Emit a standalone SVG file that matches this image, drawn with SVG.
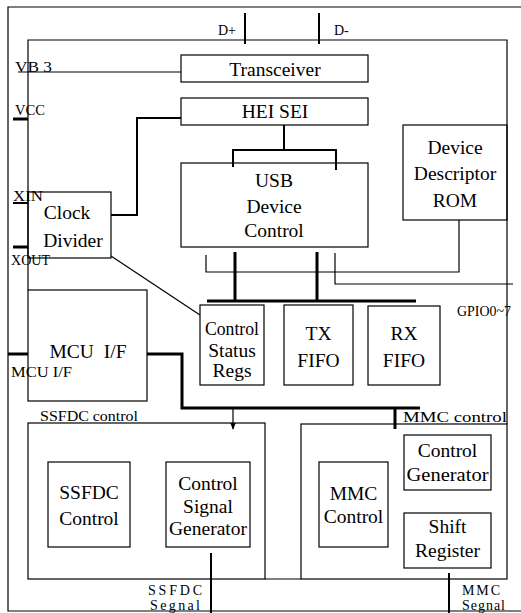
<svg xmlns="http://www.w3.org/2000/svg" width="521" height="613" viewBox="0 0 521 613">
<defs>
<style>
.box{fill:none;stroke:#000;stroke-width:1.2}
.ln{fill:none;stroke:#000;stroke-width:1.2}
.th{fill:none;stroke:#000;stroke-width:3}
.md{fill:none;stroke:#000;stroke-width:2}
.t{font-family:"Liberation Serif","Times New Roman",serif;font-size:19.5px;fill:#000;text-anchor:middle}
.s{font-family:"Liberation Serif","Times New Roman",serif;font-size:14px;fill:#000}
</style>
<marker id="ah" viewBox="0 0 10 10" refX="9" refY="5" markerWidth="6" markerHeight="6" orient="auto"><path d="M0,1 L10,5 L0,9 Z" fill="#000"/></marker>
</defs>
<rect width="521" height="613" fill="#fff"/>
<g id="frame">
<path class="ln" d="M521,7 H8 V611 H521"/>
<path class="ln" d="M28,290 V40 H507 V424"/>
</g>
<g id="connectors">
<line class="md" x1="245" y1="13" x2="245" y2="44"/>
<line class="md" x1="319" y1="13" x2="319" y2="44"/>
<line class="ln" x1="18" y1="72" x2="181" y2="72"/>
<line class="th" x1="13" y1="119" x2="28" y2="119"/>
<line class="md" x1="13" y1="203" x2="28" y2="203"/>
<line class="th" x1="13" y1="247" x2="28" y2="247"/>
<line class="th" x1="8" y1="354" x2="28" y2="354"/>
<path class="md" d="M181,118 H137 V215 H111"/>
<path class="md" d="M284,125 V150 M233,167 V150 H336 V170"/>
<path class="th" d="M235,252 V301 M317,252 V301 M207,301 H416"/>
<path class="ln" d="M206,255 V272 H459 V220"/>
<path class="ln" d="M335,253 V284 H513"/>
<line class="ln" x1="111" y1="256" x2="200" y2="315"/>
<path class="th" d="M147,354 H182 V408 H420"/>
<line class="ln" x1="233" y1="408" x2="233" y2="429" stroke-width="1.5" marker-end="url(#ah)"/>
<line class="th" x1="395" y1="408" x2="395" y2="429"/>
<line class="md" x1="211" y1="553" x2="211" y2="613"/>
<line class="md" x1="449" y1="573" x2="449" y2="613"/>
</g>
<g id="labels">
<text class="s" x="218" y="35">D+</text>
<text class="s" x="334" y="35">D-</text>
<text class="s" x="15" y="72" textLength="37" lengthAdjust="spacingAndGlyphs">VB 3</text>
<text class="s" x="15" y="115" textLength="30" lengthAdjust="spacingAndGlyphs">VCC</text>
<text class="s" x="13" y="201" textLength="30" lengthAdjust="spacingAndGlyphs">XIN</text>
<text class="s" x="11" y="265" textLength="39" lengthAdjust="spacingAndGlyphs">XOUT</text>
<text class="s" x="11" y="377" textLength="61" lengthAdjust="spacingAndGlyphs">MCU I/F</text>
<text class="s" x="457" y="316" textLength="54" lengthAdjust="spacingAndGlyphs">GPIO0~7</text>
<text class="s" x="40" y="421" textLength="98" lengthAdjust="spacingAndGlyphs">SSFDC control</text>
<text class="s" x="403" y="422" textLength="104" lengthAdjust="spacingAndGlyphs">MMC control</text>
<text class="s" x="148" y="595" font-size="13" textLength="54" lengthAdjust="spacing">SSFDC</text>
<text class="s" x="150" y="609.5" font-size="12" textLength="50" lengthAdjust="spacing">Segnal</text>
<text class="s" x="462" y="595" font-size="13" textLength="38" lengthAdjust="spacing">MMC</text>
<text class="s" x="462" y="609.5" font-size="12" textLength="43" lengthAdjust="spacing">Segnal</text>
</g>
<g id="transceiver">
<rect class="box" x="181" y="55" width="187" height="27"/>
<text class="t" x="275" y="76">Transceiver</text>
</g>
<g id="hei-sei">
<rect class="box" x="181" y="98" width="187" height="27"/>
<text class="t" x="275" y="118">HEI SEI</text>
</g>
<g id="usb-device-control">
<rect class="box" x="181" y="163" width="187" height="84"/>
<text class="t" x="274" y="187">USB</text>
<text class="t" x="274" y="213">Device</text>
<text class="t" x="274" y="237">Control</text>
</g>
<g id="device-descriptor-rom">
<rect class="box" x="403" y="125" width="104" height="95"/>
<text class="t" x="455" y="154">Device</text>
<text class="t" x="455" y="180">Descriptor</text>
<text class="t" x="455" y="207">ROM</text>
</g>
<g id="clock-divider">
<rect class="box" x="28" y="192" width="83" height="66"/>
<text class="t" x="67" y="219">Clock</text>
<text class="t" x="73" y="247">Divider</text>
</g>
<g id="mcu-if">
<rect class="box" x="28" y="290" width="119" height="111"/>
<text class="t" x="88" y="358" word-spacing="5">MCU I/F</text>
</g>
<g id="control-status-regs">
<rect class="box" x="200" y="305" width="64" height="80"/>
<text class="t" x="232" y="335" textLength="54" lengthAdjust="spacingAndGlyphs">Control</text>
<text class="t" x="232" y="357">Status</text>
<text class="t" x="232" y="377">Regs</text>
</g>
<g id="tx-fifo">
<rect class="box" x="284" y="305" width="69" height="80"/>
<text class="t" x="318.5" y="340">TX</text>
<text class="t" x="318.5" y="367">FIFO</text>
</g>
<g id="rx-fifo">
<rect class="box" x="368" y="306" width="72" height="79"/>
<text class="t" x="404" y="340">RX</text>
<text class="t" x="404" y="367">FIFO</text>
</g>
<g id="ssfdc-section">
<rect class="box" x="28" y="423" width="237" height="156"/>
</g>
<g id="mmc-section">
<rect class="box" x="301" y="424" width="206" height="155"/>
<line class="ln" x1="265" y1="579" x2="301" y2="579"/>
</g>
<g id="ssfdc-control">
<rect class="box" x="48" y="462" width="82" height="85"/>
<text class="t" x="89" y="499">SSFDC</text>
<text class="t" x="89" y="525">Control</text>
</g>
<g id="control-signal-generator">
<rect class="box" x="166" y="462" width="84" height="85"/>
<text class="t" x="208" y="490">Control</text>
<text class="t" x="208" y="513">Signal</text>
<text class="t" x="208" y="535" textLength="78" lengthAdjust="spacingAndGlyphs">Generator</text>
</g>
<g id="mmc-control">
<rect class="box" x="319" y="462" width="69" height="85"/>
<text class="t" x="353.5" y="500">MMC</text>
<text class="t" x="353.5" y="523">Control</text>
</g>
<g id="control-generator">
<rect class="box" x="404" y="435" width="87" height="55"/>
<text class="t" x="447.5" y="457">Control</text>
<text class="t" x="447.5" y="481" textLength="82" lengthAdjust="spacingAndGlyphs">Generator</text>
</g>
<g id="shift-register">
<rect class="box" x="404" y="513" width="87" height="55"/>
<text class="t" x="447.5" y="533">Shift</text>
<text class="t" x="447.5" y="557">Register</text>
</g>
</svg>
